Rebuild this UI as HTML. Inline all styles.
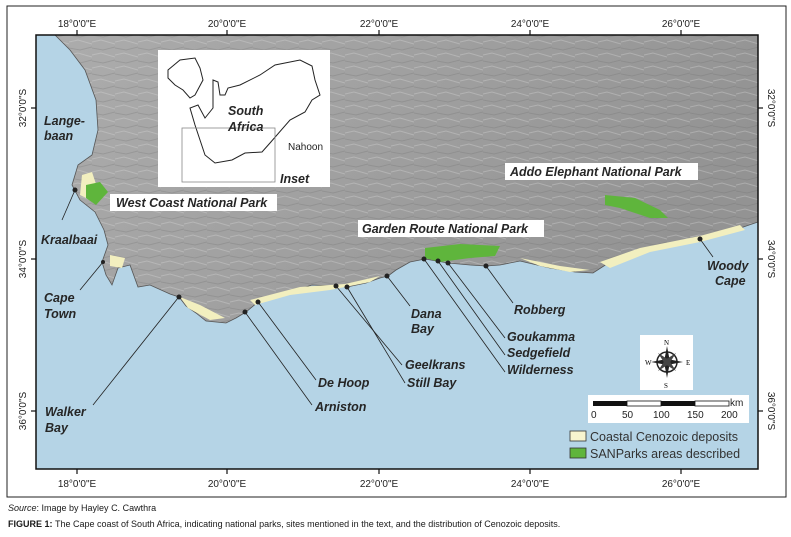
<!DOCTYPE html>
<html><head><meta charset="utf-8"><style>
html,body{margin:0;padding:0;background:#fff;width:791px;height:537px;overflow:hidden}
svg{display:block}
.t{font-family:"Liberation Sans",sans-serif;font-weight:bold;font-style:italic;fill:#262626;font-size:12.5px}
.tk{font-family:"Liberation Sans",sans-serif;font-size:10px;fill:#222}
.cap{font-family:"Liberation Sans",sans-serif;font-size:9px;fill:#1a1a1a}
</style></head><body>
<svg width="791" height="537" viewBox="0 0 791 537" xmlns="http://www.w3.org/2000/svg">
<defs>
<linearGradient id="lg" x1="0" y1="0" x2="1" y2="0.3">
<stop offset="0" stop-color="#acacac"/><stop offset="0.5" stop-color="#a0a0a0"/><stop offset="1" stop-color="#939393"/></linearGradient>
<pattern id="rel" width="23" height="13" patternUnits="userSpaceOnUse">
<path d="M0 3 L9 1 L23 5" stroke="#d8d8d8" stroke-width="1" fill="none" opacity="0.35"/>
<path d="M0 9 L11 11 L23 8" stroke="#666" stroke-width="1" fill="none" opacity="0.25"/>
</pattern>
</defs>
<rect x="7" y="6" width="779" height="491" fill="#fff" stroke="#222" stroke-width="1"/>
<rect x="36" y="35" width="722" height="434" fill="#b5d4e6"/>
<path d="M55 35 L70 50 L85 70 L96 100 L98 130 L92 155 L78 165 L72 185 L80 200 L95 212 L104 230 L108 245 L102 262 L106 275 L112 285 L118 268 L130 265 L138 287 L150 285 L170 294 L179 297 L186 306 L196 313 L206 321 L226 323 L236 318 L246 312 L258 302 L276 295 L296 290 L312 285 L334 286 L347 287 L366 283 L380 278 L388 276 L396 270 L410 262 L425 259 L448 263 L470 265 L486 266 L500 265 L520 261 L550 268 L575 272 L593 273 L610 262 L630 252 L657 247 L680 242 L700 239 L720 235 L758 222 L758 35 Z" fill="url(#lg)"/>
<path d="M55 35 L70 50 L85 70 L96 100 L98 130 L92 155 L78 165 L72 185 L80 200 L95 212 L104 230 L108 245 L102 262 L106 275 L112 285 L118 268 L130 265 L138 287 L150 285 L170 294 L179 297 L186 306 L196 313 L206 321 L226 323 L236 318 L246 312 L258 302 L276 295 L296 290 L312 285 L334 286 L347 287 L366 283 L380 278 L388 276 L396 270 L410 262 L425 259 L448 263 L470 265 L486 266 L500 265 L520 261 L550 268 L575 272 L593 273 L610 262 L630 252 L657 247 L680 242 L700 239 L720 235 L758 222 L758 35 Z" fill="url(#rel)" stroke="#555" stroke-width="0.8"/>
<g fill="#f2efbf">
<path d="M82 175 L92 172 L98 190 L90 200 L80 195 Z"/>
<path d="M110 255 L125 258 L122 268 L110 266 Z"/>
<path d="M180 297 L200 305 L225 318 L210 320 L188 308 Z"/>
<path d="M250 300 L300 287 L345 284 L380 276 L370 282 L330 290 L290 295 L255 305 Z"/>
<path d="M600 262 L640 248 L700 236 L740 225 L745 230 L700 242 L650 252 L610 268 Z"/>
<path d="M520 258 L560 266 L590 270 L570 272 L540 266 Z"/>
</g>
<g fill="#5fb53c">
<path d="M86 185 L100 182 L108 192 L96 205 L86 198 Z"/>
<path d="M425 248 L460 244 L500 246 L495 256 L470 258 L440 262 L425 258 Z"/>
<path d="M605 195 L635 198 L660 210 L668 218 L650 218 L620 208 L605 205 Z"/>
</g>
<g stroke="#222" stroke-width="0.8" fill="none">
<line x1="75" y1="190" x2="62" y2="220"/>
<line x1="103" y1="262" x2="80" y2="290"/>
<line x1="178" y1="298" x2="93" y2="405"/>
<line x1="258" y1="302" x2="316" y2="380"/>
<line x1="245" y1="312" x2="312" y2="405"/>
<line x1="336" y1="286" x2="402" y2="365"/>
<line x1="347" y1="287" x2="405" y2="383"/>
<line x1="387" y1="276" x2="410" y2="306"/>
<line x1="424" y1="259" x2="505" y2="372"/>
<line x1="438" y1="261" x2="505" y2="355"/>
<line x1="448" y1="263" x2="505" y2="338"/>
<line x1="486" y1="266" x2="513" y2="303"/>
<line x1="700" y1="239" x2="713" y2="257"/>
</g>
<g fill="#222">
<circle cx="75" cy="190" r="2.5"/><circle cx="103" cy="262" r="2"/><circle cx="179" cy="297" r="2.5"/>
<circle cx="258" cy="302" r="2.5"/><circle cx="245" cy="312" r="2.5"/><circle cx="336" cy="286" r="2.5"/>
<circle cx="347" cy="287" r="2.5"/><circle cx="387" cy="276" r="2.5"/><circle cx="424" cy="259" r="2.5"/>
<circle cx="438" cy="261" r="2.5"/><circle cx="448" cy="263" r="2.5"/><circle cx="486" cy="266" r="2.5"/>
<circle cx="700" cy="239" r="2.5"/>
</g>
<rect x="158" y="50" width="172" height="137" fill="#fff"/>
<path d="M168 70 L180 60 L195 58 L200 68 L203 80 L195 95 L190 98 L183 90 L175 85 L168 78 Z M213 80 L218 82 L220 95 L225 95 L228 88 L240 85 L260 75 L275 65 L300 60 L312 66 L315 80 L320 95 L312 100 L305 112 L290 120 L270 143 L262 152 L245 153 L232 160 L215 163 L205 155 L200 140 L195 125 L190 108 L198 105 L205 118 L213 108 Z" fill="none" stroke="#222" stroke-width="1"/>
<rect x="182" y="128" width="93" height="54" fill="none" stroke="#888" stroke-width="0.8"/>
<text class="t" x="228" y="115">South</text><text class="t" x="228" y="131">Africa</text>
<text class="tk" x="288" y="150">Nahoon</text>
<text class="t" x="280" y="183">Inset</text>
<rect x="110" y="194" width="167" height="17" fill="#fff"/>
<text class="t" x="116" y="207">West Coast National Park</text>
<rect x="358" y="220" width="186" height="17" fill="#fff"/>
<text class="t" x="362" y="233">Garden Route National Park</text>
<rect x="505" y="163" width="193" height="17" fill="#fff"/>
<text class="t" x="510" y="176">Addo Elephant National Park</text>
<text class="t" x="44" y="125">Lange-</text><text class="t" x="44" y="140">baan</text>
<text class="t" x="41" y="244">Kraalbaai</text>
<text class="t" x="44" y="302">Cape</text><text class="t" x="44" y="318">Town</text>
<text class="t" x="45" y="416">Walker</text><text class="t" x="45" y="432">Bay</text>
<text class="t" x="318" y="387">De Hoop</text>
<text class="t" x="315" y="411">Arniston</text>
<text class="t" x="405" y="369">Geelkrans</text>
<text class="t" x="407" y="387">Still Bay</text>
<text class="t" x="411" y="318">Dana</text><text class="t" x="411" y="333">Bay</text>
<text class="t" x="507" y="341">Goukamma</text>
<text class="t" x="507" y="357">Sedgefield</text>
<text class="t" x="507" y="374">Wilderness</text>
<text class="t" x="514" y="314">Robberg</text>
<text class="t" x="707" y="270">Woody</text><text class="t" x="715" y="285">Cape</text>
<rect x="640" y="335" width="53" height="55" fill="#fff"/>
<g transform="translate(667 362)">
<circle r="10" fill="none" stroke="#222" stroke-width="1.5"/>
<path d="M0 -16 L3 0 L0 16 L-3 0 Z M-16 0 L0 3 L16 0 L0 -3 Z" fill="#222"/>
<path d="M-9 -9 L2 -2 L9 9 L-2 2 Z M9 -9 L2 2 L-9 9 L-2 -2 Z" fill="#444"/>
</g>
<text x="664" y="345" font-family="Liberation Serif,serif" font-size="7">N</text>
<text x="664" y="388" font-family="Liberation Serif,serif" font-size="7">S</text>
<text x="645" y="365" font-family="Liberation Serif,serif" font-size="7">W</text>
<text x="686" y="365" font-family="Liberation Serif,serif" font-size="7">E</text>
<rect x="588" y="395" width="161" height="28" fill="#fff"/>
<rect x="593" y="401" width="34" height="5" fill="#111"/><rect x="627" y="401" width="34" height="5" fill="#fff" stroke="#111" stroke-width="0.8"/>
<rect x="661" y="401" width="34" height="5" fill="#111"/><rect x="695" y="401" width="34" height="5" fill="#fff" stroke="#111" stroke-width="0.8"/>
<text class="tk" x="730" y="406">km</text>
<g class="tk"><text x="591" y="418">0</text><text x="622" y="418">50</text><text x="653" y="418">100</text><text x="687" y="418">150</text><text x="721" y="418">200</text></g>
<rect x="570" y="431" width="16" height="10" fill="#f7f4cf" stroke="#333" stroke-width="0.8"/>
<rect x="570" y="448" width="16" height="10" fill="#5fb53c" stroke="#333" stroke-width="0.8"/>
<text x="590" y="441" font-family="Liberation Sans,sans-serif" font-size="12.5" fill="#333">Coastal Cenozoic deposits</text>
<text x="590" y="458" font-family="Liberation Sans,sans-serif" font-size="12.5" fill="#333">SANParks areas described</text>
<rect x="36" y="35" width="722" height="434" fill="none" stroke="#111" stroke-width="1.5"/>
<g stroke="#111" stroke-width="1.2">
<line x1="77" y1="30" x2="77" y2="35"/><line x1="227" y1="30" x2="227" y2="35"/><line x1="379" y1="30" x2="379" y2="35"/><line x1="530" y1="30" x2="530" y2="35"/><line x1="681" y1="30" x2="681" y2="35"/>
<line x1="77" y1="469" x2="77" y2="474"/><line x1="227" y1="469" x2="227" y2="474"/><line x1="379" y1="469" x2="379" y2="474"/><line x1="530" y1="469" x2="530" y2="474"/><line x1="681" y1="469" x2="681" y2="474"/>
<line x1="31" y1="108" x2="36" y2="108"/><line x1="31" y1="259" x2="36" y2="259"/><line x1="31" y1="411" x2="36" y2="411"/>
<line x1="758" y1="108" x2="763" y2="108"/><line x1="758" y1="259" x2="763" y2="259"/><line x1="758" y1="411" x2="763" y2="411"/>
</g>
<g class="tk" text-anchor="middle">
<text x="77" y="27">18°0'0"E</text><text x="227" y="27">20°0'0"E</text><text x="379" y="27">22°0'0"E</text><text x="530" y="27">24°0'0"E</text><text x="681" y="27">26°0'0"E</text>
<text x="77" y="487">18°0'0"E</text><text x="227" y="487">20°0'0"E</text><text x="379" y="487">22°0'0"E</text><text x="530" y="487">24°0'0"E</text><text x="681" y="487">26°0'0"E</text>
<text transform="translate(26 108) rotate(-90)">32°0'0"S</text><text transform="translate(26 259) rotate(-90)">34°0'0"S</text><text transform="translate(26 411) rotate(-90)">36°0'0"S</text>
<text transform="translate(768 108) rotate(90)">32°0'0"S</text><text transform="translate(768 259) rotate(90)">34°0'0"S</text><text transform="translate(768 411) rotate(90)">36°0'0"S</text>
</g>
<text class="cap" x="8" y="511"><tspan font-style="italic">Source</tspan>: Image by Hayley C. Cawthra</text>
<text class="cap" x="8" y="527" font-weight="bold" fill="#1b2a4a">FIGURE 1: <tspan font-weight="normal" fill="#1a1a1a">The Cape coast of South Africa, indicating national parks, sites mentioned in the text, and the distribution of Cenozoic deposits.</tspan></text>
</svg>
</body></html>
